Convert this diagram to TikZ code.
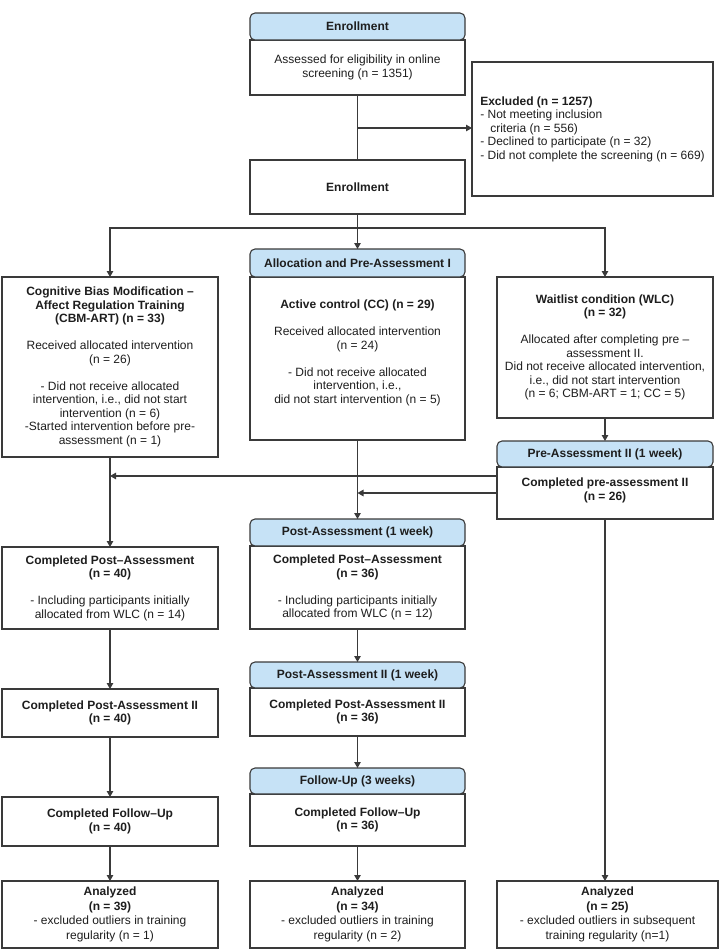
\documentclass[tikz,border=0pt]{standalone}
\usepackage{fontspec}
\setmainfont{Liberation Sans}
\usetikzlibrary{arrows.meta}
\definecolor{hdrc}{RGB}{198,226,246}
\definecolor{linec}{RGB}{58,58,58}
\definecolor{textc}{RGB}{30,30,30}
\begin{document}
\begin{tikzpicture}[x=1pt,y=-1pt,
  box/.style={draw=linec, line width=1.1pt, fill=white, inner sep=0pt, outer sep=0pt,
    align=center, anchor=north west, text=textc, font=\fontsize{12}{13.5}\selectfont},
  hdr/.style={box, fill=hdrc, rounded corners=5pt, font=\fontsize{12}{13.5}\selectfont\bfseries},
  anbox/.style={box, font=\fontsize{12}{14.5}\selectfont},
  arr/.style={draw=linec, line width=1.1pt, -{Triangle[length=6pt,width=6.5pt]}},
  ln/.style={draw=linec, line width=1.1pt}]
\useasboundingbox (0,0) rectangle (728,951);

% top
\node[box, minimum width=215pt, minimum height=55pt] (assess) at (250,40)
  {Assessed for eligibility in online\\screening (n = 1351)};
\node[hdr, minimum width=215pt, minimum height=27pt] (hEnr) at (250,13) {Enrollment};
\node[box, minimum width=215pt, minimum height=54pt, font=\fontsize{12}{13.5}\selectfont\bfseries] (enr2) at (250,160) {Enrollment};
\node[box, minimum width=241pt, minimum height=134pt, align=left] (excl) at (472,62)
  {\textbf{Excluded (n = 1257)}\\- Not meeting inclusion\\\hspace*{10pt}criteria (n = 556)\\- Declined to participate (n = 32)\\- Did not complete the screening (n = 669)};

% allocation row
\node[box, minimum width=216pt, minimum height=180pt] (cbm) at (2,277)
  {\textbf{Cognitive Bias Modification –}\\\textbf{Affect Regulation Training}\\\textbf{(CBM-ART) (n = 33)}\\[13.5pt]
   Received allocated intervention\\(n = 26)\\[13.5pt]
   - Did not receive allocated\\intervention, i.e., did not start\\intervention (n = 6)\\-Started intervention before pre-\\assessment (n = 1)};
\node[box, minimum width=215pt, minimum height=163pt] (cc) at (250,277)
  {\textbf{Active control (CC) (n = 29)}\\[13.5pt]
   Received allocated intervention\\(n = 24)\\[13.5pt]
   - Did not receive allocated\\intervention, i.e.,\\did not start intervention (n = 5)\\\mbox{}};
\node[hdr, minimum width=215pt, minimum height=28pt] (hAlloc) at (250,249) {Allocation and Pre-Assessment I};
\node[box, minimum width=216pt, minimum height=141pt] (wlc) at (497,277)
  {\textbf{Waitlist condition (WLC)}\\\textbf{(n = 32)}\\[13.5pt]
   Allocated after completing pre –\\assessment II.\\Did not receive allocated intervention,\\i.e., did not start intervention\\(n = 6; CBM-ART = 1; CC = 5)};

% pre-assessment II
\node[box, minimum width=216pt, minimum height=52pt] (pre2) at (497,467)
  {\textbf{Completed pre-assessment II}\\\textbf{(n = 26)}\\[-6pt]\mbox{}};
\node[hdr, minimum width=216pt, minimum height=26pt] (hPre2) at (497,441) {Pre-Assessment II (1 week)};

% post-assessment
\node[box, minimum width=216pt, minimum height=82pt] (lPost) at (2,547)
  {\textbf{Completed Post–Assessment}\\\textbf{(n = 40)}\\[13.5pt]
   - Including participants initially\\allocated from WLC (n = 14)};
\node[box, minimum width=215pt, minimum height=83pt] (mPost) at (250,546)
  {\textbf{Completed Post–Assessment}\\\textbf{(n = 36)}\\[13.5pt]
   - Including participants initially\\allocated from WLC (n = 12)};
\node[hdr, minimum width=215pt, minimum height=27pt] (hPost) at (250,519) {Post-Assessment (1 week)};

% post-assessment II
\node[box, minimum width=216pt, minimum height=48pt] (lPost2) at (2,689)
  {\textbf{Completed Post-Assessment II}\\\textbf{(n = 40)}};
\node[box, minimum width=215pt, minimum height=48pt] (mPost2) at (250,688)
  {\textbf{Completed Post-Assessment II}\\\textbf{(n = 36)}};
\node[hdr, minimum width=215pt, minimum height=26pt] (hPost2) at (250,662) {Post-Assessment II (1 week)};

% follow-up
\node[box, minimum width=216pt, minimum height=49pt] (lFU) at (2,797)
  {\textbf{Completed Follow–Up}\\\textbf{(n = 40)}};
\node[box, minimum width=215pt, minimum height=52pt] (mFU) at (250,794)
  {\textbf{Completed Follow–Up}\\\textbf{(n = 36)}};
\node[hdr, minimum width=215pt, minimum height=26pt] (hFU) at (250,768) {Follow-Up (3 weeks)};

% analyzed
\node[anbox, minimum width=216pt, minimum height=67pt] (lAn) at (2,881)
  {\textbf{Analyzed}\\\textbf{(n = 39)}\\- excluded outliers in training\\regularity (n = 1)};
\node[anbox, minimum width=215pt, minimum height=67pt] (mAn) at (250,881)
  {\textbf{Analyzed}\\\textbf{(n = 34)}\\- excluded outliers in training\\regularity (n = 2)};
\node[anbox, minimum width=221pt, minimum height=67pt] (rAn) at (497,881)
  {\textbf{Analyzed}\\\textbf{(n = 25)}\\- excluded outliers in subsequent\\training regularity (n=1)};

% connectors
\coordinate (exJ) at (357.5,128);
\coordinate (split) at (357.5,228);
\coordinate (lJ) at (110,476);
\coordinate (mJ) at (357.5,493);
\draw[ln] (assess.south) -- (enr2.north);
\draw[arr] (exJ) -- (exJ -| excl.west);
\draw[ln] (enr2.south) -- (split);
\draw[arr] (split) -| (cbm.north);
\draw[arr] (split) -| (wlc.north);
\draw[arr] (split) -- (hAlloc.north);
\draw[arr] (wlc.south) -- (hPre2.north);
\draw[arr] (cbm.south) -- (lPost.north);
\draw[arr] (cc.south) -- (hPost.north);
\draw[arr] (lJ -| pre2.west) -- (lJ);
\draw[arr] (mJ -| pre2.west) -- (mJ);
\draw[arr] (pre2.south) -- (pre2.south |- rAn.north);
\draw[arr] (lPost.south) -- (lPost2.north);
\draw[arr] (lPost2.south) -- (lFU.north);
\draw[arr] (lFU.south) -- (lAn.north);
\draw[arr] (mPost.south) -- (hPost2.north);
\draw[arr] (mPost2.south) -- (hFU.north);
\draw[arr] (mFU.south) -- (mAn.north);
\end{tikzpicture}
\end{document}
